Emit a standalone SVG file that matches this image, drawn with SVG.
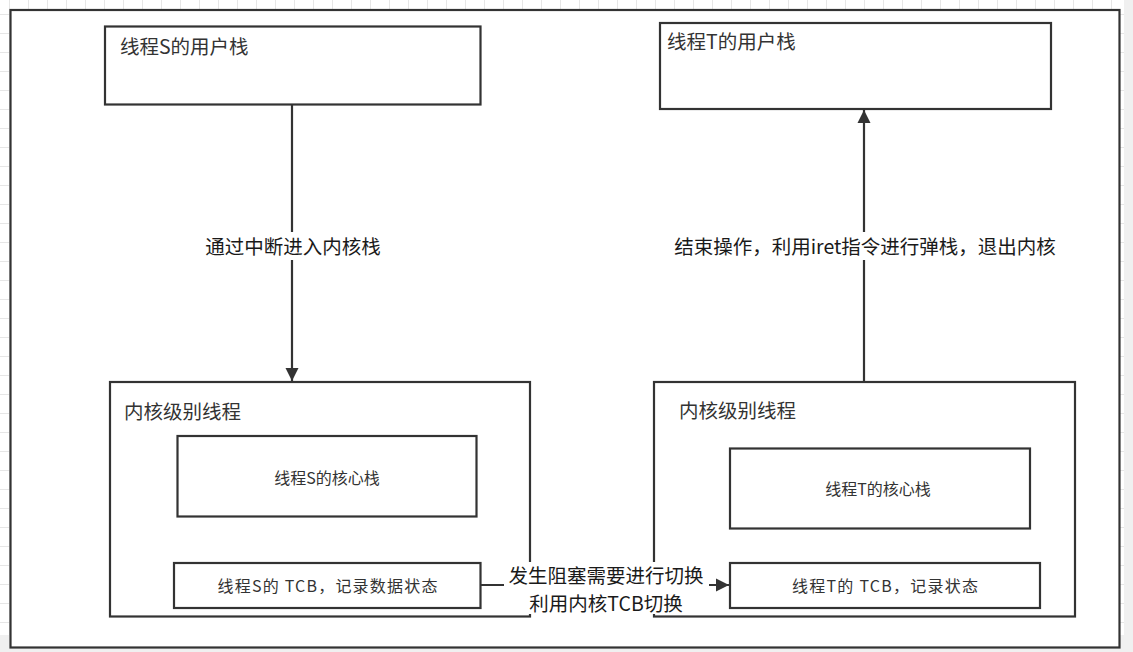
<svg xmlns="http://www.w3.org/2000/svg" width="1133" height="652" viewBox="0 0 1133 652">
<defs>
<pattern id="grid" x="9" y="14" width="19" height="19" patternUnits="userSpaceOnUse">
<path d="M0 0.5H19M0.5 0V19" fill="none" stroke="#e6e6e6" stroke-width="1"/>
</pattern>
<marker id="arr" viewBox="0 0 10 10" refX="10" refY="5" markerWidth="6" markerHeight="6" markerUnits="strokeWidth" orient="auto">
<path d="M0 0L10 5L0 10Z" fill="#333"/>
</marker>
<style>
.box{fill:#fff;stroke:#333;stroke-width:2.2}
.t{font-family:"Noto Sans CJK SC","Noto Sans",sans-serif;fill:#333;dominant-baseline:central}
.h{font-size:19.5px}
.s{font-size:16px;text-anchor:middle}
.e{font-size:19.5px;text-anchor:middle;fill:#1a1a1a}
.c{fill:none;stroke:#333;stroke-width:2.2}
</style>
</defs>
<rect width="1133" height="652" fill="#fff"/>
<rect width="1133" height="652" fill="url(#grid)"/>
<rect x="1124" y="0" width="9" height="652" fill="#f0f0f0"/>
<rect x="0" y="635" width="1133" height="17" fill="#f0f0f0"/>
<rect x="10.5" y="10" width="1109" height="637.5" fill="#fff" stroke="#333" stroke-width="2.2"/>

<g id="userS">
<rect class="box" x="105" y="26.5" width="375.5" height="78"/>
<text class="t h" x="120" y="45">线程S的用户栈</text>
</g>
<g id="userT">
<rect class="box" x="660" y="23" width="391" height="86"/>
<text class="t h" x="667" y="40">线程T的用户栈</text>
</g>
<g id="kernelS">
<rect class="box" x="110" y="382" width="420" height="234.5"/>
<text class="t h" x="124" y="410">内核级别线程</text>
</g>
<g id="coreS">
<rect class="box" x="177.5" y="436" width="299" height="80.5"/>
<text class="t s" x="327" y="477">线程S的核心栈</text>
</g>
<g id="tcbS">
<rect class="box" x="174" y="563" width="306.5" height="45"/>
<text class="t s" x="327.5" y="585" textLength="220" lengthAdjust="spacing">线程S的 TCB，记录数据状态</text>
</g>
<g id="kernelT">
<rect class="box" x="654" y="382" width="421" height="234.5"/>
<text class="t h" x="679" y="409">内核级别线程</text>
</g>
<g id="coreT">
<rect class="box" x="730" y="448.5" width="300" height="80"/>
<text class="t s" x="878" y="488">线程T的核心栈</text>
</g>
<g id="tcbT">
<rect class="box" x="730" y="563" width="310" height="45"/>
<text class="t s" x="885" y="585" textLength="186" lengthAdjust="spacing">线程T的 TCB，记录状态</text>
</g>

<g id="connectors">
<line class="c" x1="292" y1="104.5" x2="292" y2="381" marker-end="url(#arr)"/>
<rect x="200" y="232" width="186" height="28" fill="#fff"/>
<text class="t e" x="293" y="245">通过中断进入内核栈</text>

<line class="c" x1="864" y1="382" x2="864" y2="110" marker-end="url(#arr)"/>
<rect x="665" y="232" width="400" height="28" fill="#fff"/>
<text class="t e" x="865" y="245">结束操作，利用iret指令进行弹栈，退出内核</text>

<line class="c" x1="480.5" y1="585" x2="729" y2="585" marker-end="url(#arr)"/>
<rect x="504" y="562" width="205" height="52" fill="#fff"/>
<text class="t e" x="606" y="574">发生阻塞需要进行切换</text>
<text class="t e" x="606" y="602">利用内核TCB切换</text>
</g>
</svg>
